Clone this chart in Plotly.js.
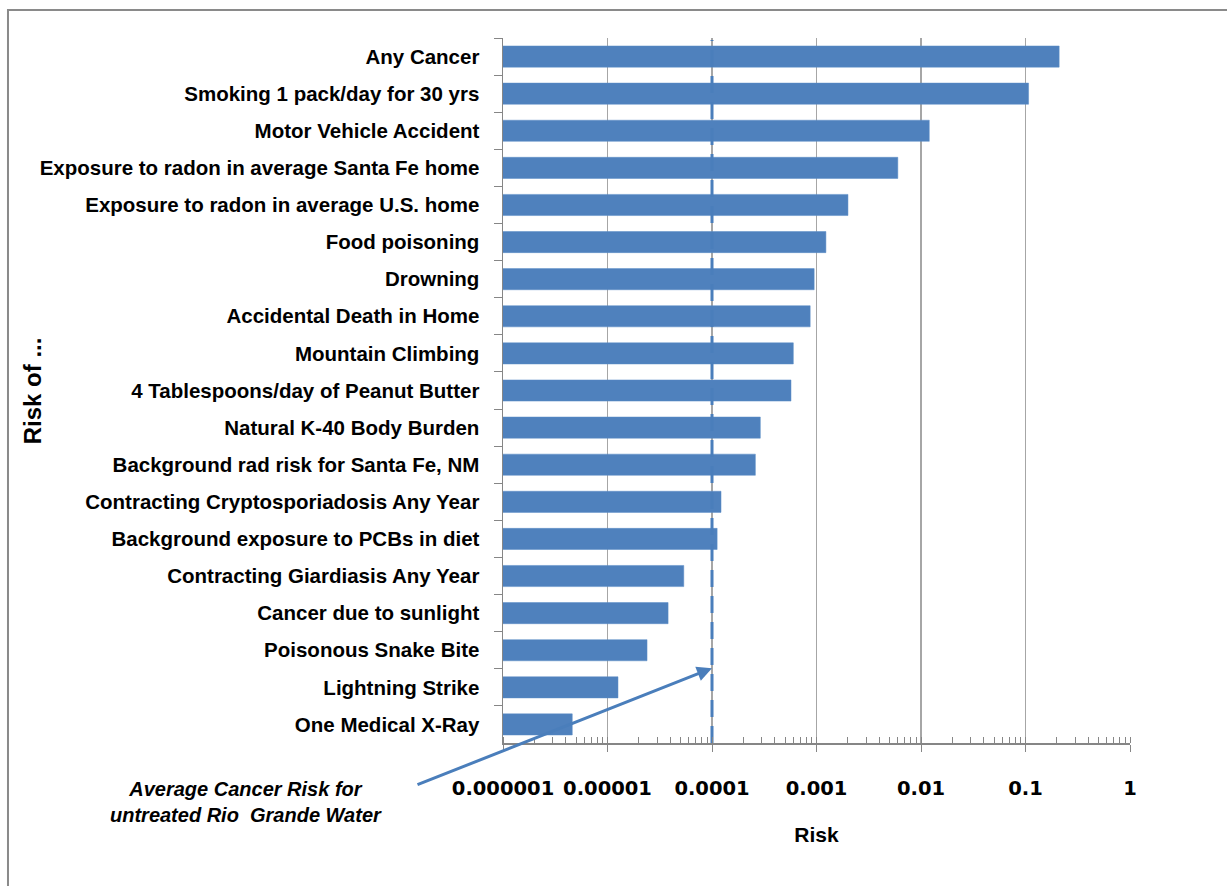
<!DOCTYPE html>
<html>
<head>
<meta charset="utf-8">
<script src="https://cdn.plot.ly/plotly-3.0.1.min.js"></script>
<style>html,body{margin:0;padding:0;background:#fff;}#chart{width:1227px;height:886px;}</style>
</head>
<body>
<div id="chart"></div>
<script>
// Categories, top to bottom as shown
const categories = [
  "Any Cancer",
  "Smoking 1 pack/day for 30 yrs",
  "Motor Vehicle Accident",
  "Exposure to radon in average Santa Fe home",
  "Exposure to radon in average U.S. home",
  "Food poisoning",
  "Drowning",
  "Accidental Death in Home",
  "Mountain Climbing",
  "4 Tablespoons/day of Peanut Butter",
  "Natural K-40 Body Burden",
  "Background rad risk for Santa Fe, NM",
  "Contracting Cryptosporiadosis Any Year",
  "Background exposure to PCBs in diet",
  "Contracting Giardiasis Any Year",
  "Cancer due to sunlight",
  "Poisonous Snake Bite",
  "Lightning Strike",
  "One Medical X-Ray"
];
// Risk values (log scale)
const riskValues = [
  0.21, 0.107, 0.012, 0.006, 0.002, 0.00123, 0.00095, 0.00087, 0.0006, 0.00057,
  0.00029, 0.00026, 0.000122, 0.000112, 0.0000537, 0.000038, 0.0000239, 0.0000126, 0.0000046
];
const tickValues = [0.000001, 0.00001, 0.0001, 0.001, 0.01, 0.1, 1];
const tickLabels = ["0.000001", "0.00001", "0.0001", "0.001", "0.01", "0.1", "1"];
// Average cancer risk for untreated Rio Grande water
const rioGrandeRisk = 0.0001;
const rioGrandeLabel = "<b><i>Average Cancer Risk for<br>untreated Rio  Grande Water</i></b>";
const xTitle = "Risk";
const yTitle = "Risk of ...";

const bars = {
  type: "bar",
  orientation: "h",
  x: riskValues,
  y: categories,
  marker: {color: "#4F81BD", line: {color: "#5A8CC6", width: 0.5}},
  hoverinfo: "x+y"
};

// Reference line at the Rio Grande risk level, spanning the full plot height
const refLine = {
  type: "scatter",
  mode: "lines",
  x: [rioGrandeRisk, rioGrandeRisk],
  y: [0, 0.997],
  yaxis: "y2",
  line: {color: "#4A7EBB", width: 3, dash: "17px,9px"},
  hoverinfo: "skip"
};

const axisGray = "#868686";
const layout = {
  width: 1227,
  height: 886,
  margin: {l: 503, r: 97, t: 38, b: 143},
  paper_bgcolor: "#ffffff",
  plot_bgcolor: "#ffffff",
  showlegend: false,
  bargap: 0.43,
  font: {family: "Liberation Sans, Arial, sans-serif", color: "#000"},
  xaxis: {
    type: "log",
    range: [-6, 0],
    tickmode: "array",
    tickvals: tickValues,
    ticktext: tickLabels,
    ticks: "outside",
    ticklen: 7,
    tickcolor: axisGray,
    tickwidth: 1,
    showline: true,
    linecolor: axisGray,
    linewidth: 1.5,
    showgrid: true,
    gridcolor: "#a6a6a6",
    gridwidth: 1.3,
    zeroline: false,
    ticklabelstandoff: 20,
    tickfont: {family: "DejaVu Sans, sans-serif", size: 19.5, weight: "bold", color: "#000"},
    minor: {ticks: "inside", ticklen: 6, tickcolor: axisGray, dtick: "D1", showgrid: false},
    title: {text: xTitle, font: {size: 21, weight: "bold", color: "#000"}, standoff: 28}
  },
  yaxis: {
    type: "category",
    autorange: "reversed",
    ticks: "outside",
    tickson: "boundaries",
    ticklen: 8,
    tickcolor: axisGray,
    showline: true,
    linecolor: axisGray,
    linewidth: 1.5,
    showgrid: false,
    zeroline: false,
    ticklabelstandoff: 18,
    tickfont: {size: 20.5, weight: "bold", color: "#000"}
  },
  yaxis2: {
    overlaying: "y",
    range: [0, 1],
    visible: false,
    fixedrange: true
  },
  shapes: [
    {
      type: "rect", xref: "paper", yref: "paper",
      x0: -0.7895, x1: 2, y0: -1, y1: 1.0397,
      line: {color: "#8a8a8a", width: 2},
      fillcolor: "rgba(0,0,0,0)",
      layer: "below"
    }
  ],
  annotations: [
    {
      xref: "x", yref: "paper",
      x: Math.log10(rioGrandeRisk), y: 0.106,
      text: "", showarrow: true,
      ax: -296, ay: 117,
      arrowhead: 2, arrowsize: 1, arrowwidth: 3, arrowcolor: "#4A7EBB",
      standoff: 0
    },
    {
      xref: "paper", yref: "paper",
      x: -0.41, y: -0.0837,
      xanchor: "center", yanchor: "middle",
      text: rioGrandeLabel, showarrow: false,
      align: "center",
      font: {size: 20, color: "#000"}
    },
    {
      xref: "paper", yref: "paper",
      x: -0.75, y: 0.5,
      xanchor: "center", yanchor: "middle",
      text: "<b>" + yTitle + "</b>", showarrow: false,
      textangle: -90,
      font: {size: 24, color: "#000"}
    }
  ]
};

Plotly.newPlot("chart", [bars, refLine], layout, {displayModeBar: false, staticPlot: true});
</script>
</body>
</html>
